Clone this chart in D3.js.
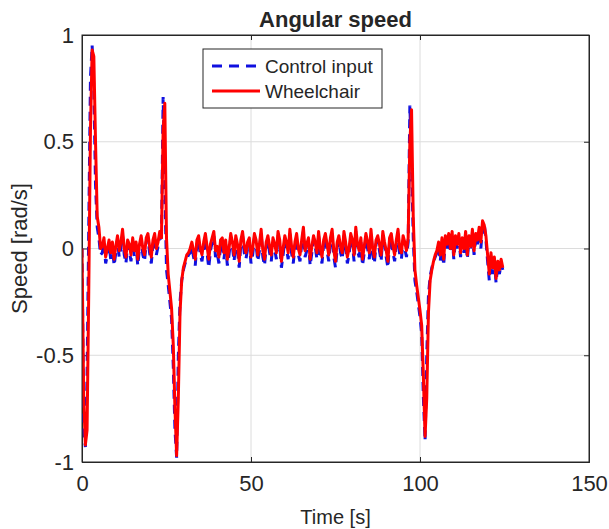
<!DOCTYPE html>
<html>
<head>
<meta charset="utf-8">
<script src="https://cdn.jsdelivr.net/npm/d3@7"></script>
<style>
  body { margin: 0; background: #fff; }
  text { font-family: "Liberation Sans", Arial, sans-serif; fill: #262626; }
</style>
</head>
<body>
<div id="vis"></div>
<script>
var sampleStep = 0.5;

var controlInput = [
  0, -0.85, -0.93, -0.6, 0.1, 0.8, 0.95, 0.75, 0.3, 0.1, 0.05, -0.03,
  -0.02, 0.03, -0.07, -0.03, 0.02, -0.05, 0.01, -0.08, -0.02, 0.04, -0.04, 0.0, 0.06, -0.03, -0.07, 0.02, -0.01, -0.06,
  0.03, -0.04, 0.01, -0.08, 0.0, 0.04, -0.03, -0.06, 0.03, 0.05, -0.02, -0.07, 0.02, 0.05, -0.03, 0.01, 0.06, 0.03,
  0.71, 0.3, -0.1, -0.17, -0.25, -0.33, -0.55, -0.85, -0.98, -0.5, -0.25, -0.15, -0.1, -0.07, -0.05, -0.03, -0.02,
  0.01, -0.04, -0.08, 0.02, 0.04, -0.03, -0.06, 0.0, 0.05, -0.02,
  -0.09, -0.01, 0.03, 0.06, -0.04, -0.02, -0.07, 0.01, 0.03, -0.05,
  0.02, -0.08, -0.03, 0.05, 0.01, -0.06, 0.04, -0.01, -0.09, 0.02,
  0.06, -0.02, -0.05, 0.0, 0.03, -0.07, -0.03, 0.05, 0.02, -0.06,
  -0.01, 0.07, -0.04, -0.08, 0.01, 0.04, -0.02, -0.06, 0.03, 0.0,
  -0.05, 0.06, 0.02, -0.09, -0.03, 0.04, 0.0, -0.05, 0.07, -0.02,
  -0.07, 0.01, 0.05, -0.03, -0.06, 0.02, 0.08, -0.04, -0.01, 0.03,
  -0.08, -0.02, 0.04, 0.01, -0.05, 0.06, -0.03, -0.07, 0.02, 0.05,
  -0.01, -0.06, 0.03, 0.07, -0.04, -0.09, 0.0, 0.04, -0.02, -0.05,
  0.06, 0.01, -0.07, -0.03, 0.05, 0.02, -0.06, 0.08, -0.01, -0.04,
  0.03, -0.08, -0.02, 0.05, 0.0, -0.05, 0.07, -0.03, -0.07, 0.02,
  0.04, -0.01, -0.06, 0.06, 0.01, -0.04, -0.09, 0.03, 0.05, -0.02,
  -0.06, 0.02, 0.07, -0.03, -0.05, 0.04, 0.0, -0.04, 0.03,
  0.67, 0.4, 0.05, -0.15, -0.2, -0.26, -0.32, -0.4, -0.7, -0.9, -0.5, -0.22, -0.13, -0.09, -0.06, -0.04, -0.02,
  0.01, -0.06, 0.03, -0.08, 0.04, 0.0, 0.05, -0.02, 0.06, -0.05,
  0.04, 0.0, 0.05, -0.04, 0.03, -0.02, 0.06, -0.05, 0.04, -0.01,
  0.07, -0.03, 0.05, 0.02, 0.08, 0.0, 0.1, 0.12, 0.04, -0.06,
  -0.15, -0.04, -0.12, -0.06, -0.16, -0.08, -0.12, -0.07, -0.1
];

var wheelchair = [
  0, -0.7, -0.92, -0.85, -0.2, 0.55, 0.93, 0.9, 0.5, 0.15, 0.1, 0.0,
  0.01, 0.05, -0.04, 0.0, 0.04, -0.02, 0.03, -0.05, 0.01, 0.06, -0.01, 0.03, 0.09, 0.0, -0.04, 0.04, 0.02, -0.03,
  0.05, -0.01, 0.03, -0.05, 0.02, 0.06, 0.0, -0.03, 0.05, 0.07, 0.01, -0.04, 0.04, 0.07, 0.0, 0.03, 0.08, 0.05,
  0.55, 0.68, 0.05, -0.12, -0.2, -0.28, -0.45, -0.75, -0.97, -0.7, -0.3, -0.15, -0.09, -0.06, -0.03, -0.02, 0.0,
  0.03, -0.01, -0.05, 0.04, 0.06, 0.0, -0.03, 0.03, 0.07, 0.01,
  -0.05, 0.02, 0.05, 0.08, -0.01, 0.01, -0.04, 0.04, 0.05, -0.02,
  0.04, -0.05, 0.0, 0.07, 0.03, -0.03, 0.06, 0.02, -0.06, 0.04,
  0.08, 0.01, -0.02, 0.03, 0.05, -0.04, 0.0, 0.07, 0.04, -0.03,
  0.02, 0.09, -0.01, -0.05, 0.03, 0.06, 0.01, -0.03, 0.05, 0.02,
  -0.02, 0.08, 0.04, -0.06, 0.0, 0.06, 0.03, -0.02, 0.09, 0.01,
  -0.04, 0.03, 0.07, 0.0, -0.03, 0.04, 0.1, -0.01, 0.02, 0.05,
  -0.05, 0.01, 0.06, 0.03, -0.02, 0.08, 0.0, -0.04, 0.04, 0.07,
  0.02, -0.03, 0.05, 0.09, -0.01, -0.06, 0.03, 0.06, 0.01, -0.02,
  0.08, 0.03, -0.04, 0.0, 0.07, 0.04, -0.03, 0.1, 0.02, -0.01,
  0.05, -0.05, 0.01, 0.07, 0.03, -0.02, 0.09, 0.0, -0.04, 0.04,
  0.06, 0.02, -0.03, 0.08, 0.03, -0.01, -0.06, 0.05, 0.07, 0.01,
  -0.03, 0.04, 0.09, 0.0, -0.02, 0.06, 0.03, -0.01, 0.05,
  0.5, 0.65, 0.15, -0.1, -0.17, -0.23, -0.29, -0.36, -0.6, -0.88, -0.7, -0.3, -0.15, -0.1, -0.06, -0.03, -0.01,
  0.03, -0.03, 0.05, -0.05, 0.06, 0.02, 0.07, 0.0, 0.08, -0.03,
  0.06, 0.02, 0.07, -0.02, 0.05, 0.0, 0.08, -0.03, 0.06, 0.01,
  0.09, -0.01, 0.07, 0.04, 0.1, 0.03, 0.13, 0.11, 0.06, -0.03,
  -0.12, -0.02, -0.09, -0.04, -0.14, -0.06, -0.1, -0.05, -0.09
];

var xTicks = [0, 50, 100, 150];
var yTicks = [-1, -0.5, 0, 0.5, 1];
var seriesNames = ["Control input", "Wheelchair"];

var width = 609, height = 529;
var margin = {top: 35, right: 20, bottom: 67, left: 82};
var plotW = width - margin.left - margin.right,
    plotH = height - margin.top - margin.bottom;

var svg = d3.select("#vis").append("svg")
    .attr("width", width)
    .attr("height", height);

svg.append("rect").attr("width", width).attr("height", height).attr("fill", "#fff");

var g = svg.append("g").attr("transform", "translate(" + margin.left + "," + margin.top + ")");

var x = d3.scaleLinear().domain([0, 150]).range([0, plotW]);
var y = d3.scaleLinear().domain([-1, 1]).range([plotH, 0]);

// grid
g.append("g").selectAll("line").data(xTicks.slice(1, -1)).enter().append("line")
  .attr("x1", d => x(d)).attr("x2", d => x(d)).attr("y1", 0).attr("y2", plotH)
  .attr("stroke", "#dcdcdc").attr("stroke-width", 1);
g.append("g").selectAll("line").data(yTicks.slice(1, -1)).enter().append("line")
  .attr("y1", d => y(d)).attr("y2", d => y(d)).attr("x1", 0).attr("x2", plotW)
  .attr("stroke", "#dcdcdc").attr("stroke-width", 1);

// axes (ticks pointing inward like matlab)
var tickLen = 5;
var fmt = d => (d === 0 ? "0" : String(d));
g.append("g").attr("transform", "translate(0," + plotH + ")")
  .call(d3.axisBottom(x).tickValues(xTicks).tickSize(-tickLen).tickPadding(13).tickFormat(fmt));
g.append("g")
  .call(d3.axisLeft(y).tickValues(yTicks).tickSize(-tickLen).tickPadding(8).tickFormat(fmt));
g.append("g").call(d3.axisTop(x).tickValues(xTicks).tickSize(-tickLen).tickFormat(""));
g.append("g").attr("transform", "translate(" + plotW + ",0)")
  .call(d3.axisRight(y).tickValues(yTicks).tickSize(-tickLen).tickFormat(""));

g.selectAll(".domain").attr("stroke", "#262626");
g.selectAll(".tick line").attr("stroke", "#262626");
g.selectAll(".tick text").style("font-size", "22px").attr("fill", "#262626")
  .style("font-family", "'Liberation Sans', Arial, sans-serif");

// lines
g.append("clipPath").attr("id", "clip").append("rect")
  .attr("width", plotW).attr("height", plotH);

var line = d3.line()
  .x((d, i) => x(i * sampleStep))
  .y(d => y(d));

var plot = g.append("g").attr("clip-path", "url(#clip)");
plot.append("path").datum(controlInput)
  .attr("d", line).attr("fill", "none")
  .attr("stroke", "#1010e0").attr("stroke-width", 3)
  .attr("stroke-dasharray", "9,6");
plot.append("path").datum(wheelchair)
  .attr("d", line).attr("fill", "none")
  .attr("stroke", "#ff0000").attr("stroke-width", 3)
  .attr("stroke-linejoin", "round");

// box on top
g.append("rect").attr("width", plotW).attr("height", plotH)
  .attr("fill", "none").attr("stroke", "#262626").attr("stroke-width", 1);

// title and labels
svg.append("text")
  .attr("x", margin.left + plotW / 2).attr("y", 27)
  .attr("text-anchor", "middle")
  .style("font-size", "22px").style("font-weight", "bold").attr("fill", "#000")
  .text("Angular speed");

svg.append("text")
  .attr("x", margin.left + plotW / 2).attr("y", 524)
  .attr("text-anchor", "middle")
  .style("font-size", "20px")
  .text("Time [s]");

svg.append("text")
  .attr("transform", "translate(27," + (margin.top + plotH / 2) + ") rotate(-90)")
  .attr("text-anchor", "middle")
  .style("font-size", "22px")
  .text("Speed [rad/s]");

// legend
var legend = svg.append("g").attr("transform", "translate(203,49)");
legend.append("rect").attr("width", 179).attr("height", 59)
  .attr("fill", "#fff").attr("stroke", "#262626").attr("stroke-width", 1);
var styles = [
  {color: "#1010e0", dash: "10,7"},
  {color: "#ff0000", dash: null}
];
seriesNames.forEach(function(name, i) {
  var ly = 17 + i * 25;
  legend.append("line")
    .attr("x1", 9).attr("x2", 57).attr("y1", ly).attr("y2", ly)
    .attr("stroke", styles[i].color).attr("stroke-width", 3)
    .attr("stroke-dasharray", styles[i].dash);
  legend.append("text")
    .attr("x", 62).attr("y", ly + 7)
    .style("font-size", "19px").attr("fill", "#000")
    .text(name);
});
</script>
</body>
</html>
